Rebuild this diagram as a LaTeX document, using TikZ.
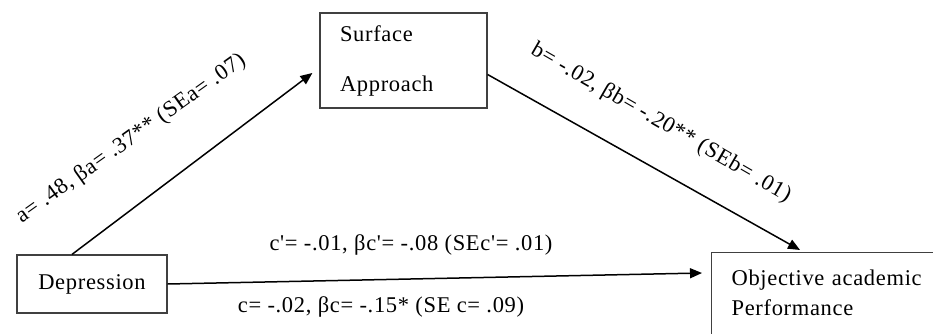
\documentclass[tikz,border=0pt]{standalone}
\usepackage{fontspec}
\setmainfont{Liberation Serif}[Ligatures=TeXOff, LetterSpace=3]
\usetikzlibrary{arrows.meta}
\begin{document}
\begin{tikzpicture}[x=1pt,y=-1pt,
  box/.style={draw=black!75, line width=1.2pt, rectangle, inner sep=0pt},
  conn/.style={line width=1.5pt, -{Triangle[length=12pt,width=10pt]}},
  lbl/.style={inner sep=0pt},
  every node/.style={font=\fontsize{22.5}{26}\selectfont}]
\useasboundingbox (0,0) rectangle (933,334);
\node[box, minimum width=150pt, minimum height=58pt] (dep) at (92,284) {Depression};
\node[box, minimum width=167pt, minimum height=95pt, text width=127pt, inner xsep=20pt, align=left] (sa) at (403.5,60.5) {Surface\\[24pt]Approach};
\node[box, anchor=north west, minimum width=260pt, minimum height=110pt, text width=220pt, inner xsep=17pt, align=left] (obj) at (711,252) {Objective academic\\[4pt]Performance\\[4pt]\mbox{}};
\draw[conn] ([xshift=-20pt]dep.north) -- ([xshift=-7pt,yshift=-12.5pt]sa.west);
\draw[conn] ([yshift=-14pt]sa.east) -- ([xshift=89pt,yshift=2pt]obj.north west);
\draw[conn] (dep.east) -- ([xshift=-9pt,yshift=-21pt]obj.north west);
\node[lbl, rotate=35.5] (la) at (131,139) {a= .48, βa= .37** (SEa= .07)};
\node[lbl, rotate=-30] (lb) at (661,123) {b= -.02, βb= -.20** (SEb= .01)};
\node[lbl] (lcp) at (411,245) {c'= -.01, βc'= -.08 (SEc'= .01)};
\node[lbl] (lc) at (381,307) {c= -.02, βc= -.15* (SE c= .09)};
\end{tikzpicture}
\end{document}
